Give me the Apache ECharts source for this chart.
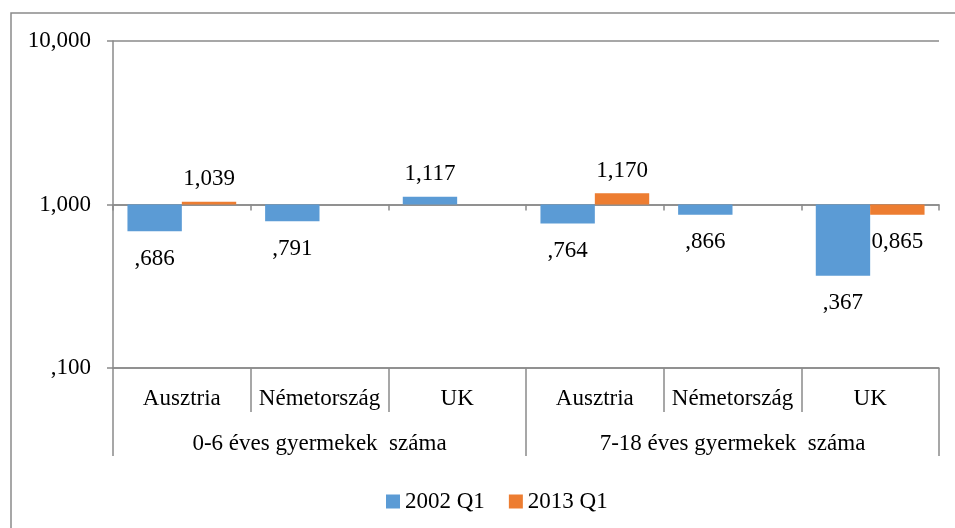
<!DOCTYPE html>
<html>
<head>
<meta charset="utf-8">
<script src="https://cdn.jsdelivr.net/npm/echarts@6/dist/echarts.min.js"></script>
<style>
  html, body { margin: 0; padding: 0; background: #ffffff; }
  #chart { width: 955px; height: 528px; }
</style>
</head>
<body>
<div id="chart"></div>
<script>
// Categories and group headings
const countries = ['Ausztria', 'Németország', 'UK', 'Ausztria', 'Németország', 'UK'];
const ageGroups = ['0-6 éves gyermekek  száma', '7-18 éves gyermekek  száma'];

// Index values (1 = no change)
const seriesNames = ['2002 Q1', '2013 Q1'];
const values2002 = [0.686, 0.791, 1.117, 0.764, 0.866, 0.367];
const values2013 = [1.039, null, null, 1.170, null, 0.865];

const FONT = "'Liberation Serif', 'Times New Roman', serif";
const GRAY = '#8a8a8a';
const BLUE = '#5B9BD5';
const ORANGE = '#ED7D31';

// Hungarian decimal comma, three decimals
function fmtKeepZero(v) { return Number(v).toFixed(3).replace('.', ','); }
function fmtNoLeadingZero(v) {
  const s = fmtKeepZero(v);
  return s.startsWith('0,') ? s.slice(1) : s;
}

function barData(values) {
  return values.map(v => v == null ? null : {
    value: v,
    label: { position: v >= 1 ? 'top' : 'bottom', distance: v >= 1 ? 11 : 16 }
  });
}

const chart = echarts.init(document.getElementById('chart'), null, { renderer: 'canvas' });

const option = {
  animation: false,
  textStyle: { fontFamily: FONT },
  graphic: [{
    type: 'rect',
    shape: { x: 11, y: 13, width: 1200, height: 800 },
    style: { fill: 'none', stroke: GRAY, lineWidth: 1.5 },
    silent: true
  }],
  grid: { left: 113, right: 16, top: 41, bottom: 160, containLabel: false },
  legend: {
    data: seriesNames,
    left: 381,
    top: 485,
    itemWidth: 14,
    itemHeight: 14,
    itemGap: 24,
    icon: 'rect',
    textStyle: { fontFamily: FONT, fontSize: 23, color: '#000' }
  },
  xAxis: [
    {
      type: 'category',
      data: countries,
      position: 'bottom',
      boundaryGap: true,
      axisLine: { onZero: false, lineStyle: { color: GRAY, width: 1.5 } },
      axisTick: { show: true, length: 44, interval: 0, lineStyle: { color: GRAY, width: 1.5 } },
      axisLabel: { interval: 0, margin: 19, fontFamily: FONT, fontSize: 23, color: '#000' }
    },
    {
      type: 'category',
      data: ageGroups,
      position: 'bottom',
      boundaryGap: true,
      axisLine: { show: false, onZero: false },
      axisTick: { show: true, length: 88, interval: 0, lineStyle: { color: GRAY, width: 1.5 } },
      axisLabel: { interval: 0, margin: 64, fontFamily: FONT, fontSize: 23, color: '#000' }
    },
    {
      // crossing line at 1,000 with tick marks between categories
      type: 'category',
      data: countries,
      position: 'bottom',
      offset: -163.5,
      boundaryGap: true,
      axisLine: { show: true, onZero: false, lineStyle: { color: GRAY, width: 1.5 } },
      axisTick: { show: true, length: 6, interval: 0, lineStyle: { color: GRAY, width: 1.5 } },
      axisLabel: { show: false }
    }
  ],
  yAxis: {
    type: 'log',
    logBase: 10,
    min: 0.1,
    max: 10,
    axisLine: { show: true, lineStyle: { color: GRAY, width: 1.5 } },
    axisTick: { show: true, length: 6, lineStyle: { color: GRAY, width: 1.5 } },
    splitLine: { show: true, lineStyle: { color: GRAY, width: 1.5 } },
    axisLabel: {
      margin: 22,
      fontFamily: FONT,
      fontSize: 23,
      color: '#000',
      formatter: v => fmtNoLeadingZero(v)
    }
  },
  series: [
    {
      name: seriesNames[0],
      type: 'bar',
      xAxisIndex: 0,
      data: barData(values2002),
      barGap: '0%',
      barCategoryGap: '21%',
      itemStyle: { color: BLUE },
      label: {
        show: true,
        fontFamily: FONT,
        fontSize: 23,
        color: '#000',
        formatter: p => fmtNoLeadingZero(p.value)
      }
    },
    {
      name: seriesNames[1],
      type: 'bar',
      xAxisIndex: 0,
      data: barData(values2013),
      barGap: '0%',
      barCategoryGap: '21%',
      itemStyle: { color: ORANGE },
      label: {
        show: true,
        fontFamily: FONT,
        fontSize: 23,
        color: '#000',
        formatter: p => fmtKeepZero(p.value)
      }
    }
  ]
};

chart.setOption(option);
</script>
</body>
</html>
